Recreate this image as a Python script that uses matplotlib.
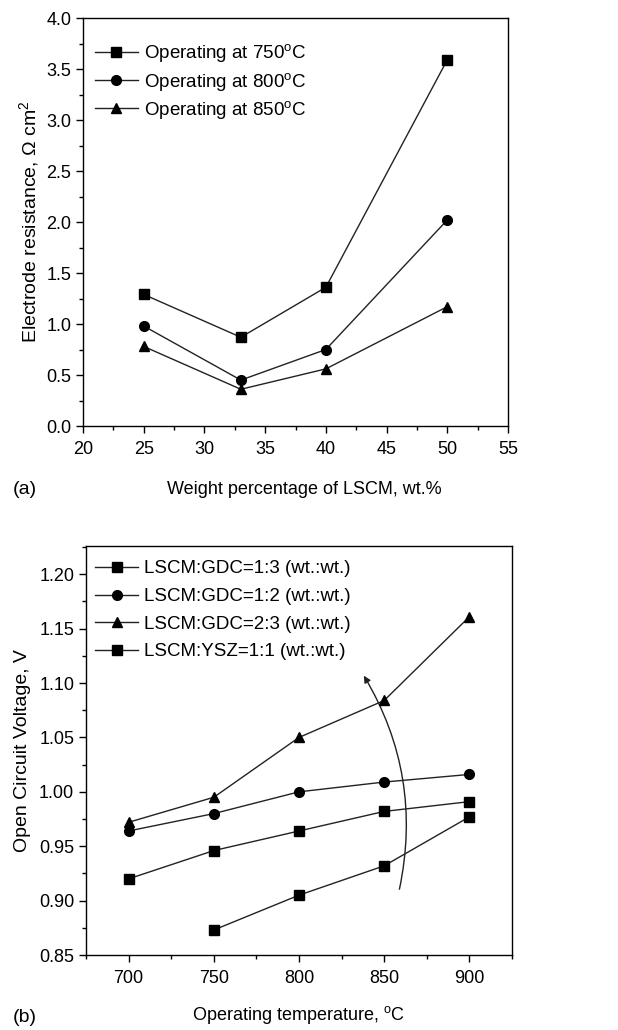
from matplotlib import pyplot as plt
from matplotlib.patches import FancyArrowPatch
from matplotlib.ticker import MultipleLocator

plt.rcParams['font.family'] = ['Liberation Sans', 'DejaVu Sans']
plt.rcParams['mathtext.fontset'] = 'custom'
plt.rcParams['mathtext.rm'] = 'Liberation Sans'
plt.rcParams['mathtext.it'] = 'Liberation Sans:italic'

# (a) electrode resistance vs LSCM content
lscm_wt = [25, 33, 40, 50]
res_750 = [1.29, 0.87, 1.36, 3.59]
res_800 = [0.98, 0.45, 0.75, 2.02]
res_850 = [0.78, 0.36, 0.56, 1.17]

# (b) open circuit voltage vs operating temperature
temp_b = [700, 750, 800, 850, 900]
ocv_gdc_13 = [0.920, 0.946, 0.964, 0.982, 0.991]
ocv_gdc_12 = [0.964, 0.980, 1.000, 1.009, 1.016]
ocv_gdc_23 = [0.972, 0.995, 1.050, 1.084, 1.161]
temp_ysz = [750, 800, 850, 900]
ocv_ysz_11 = [0.873, 0.905, 0.932, 0.977]
labels_b = ['LSCM:GDC=1:3 (wt.:wt.)', 'LSCM:GDC=1:2 (wt.:wt.)',
            'LSCM:GDC=2:3 (wt.:wt.)', 'LSCM:YSZ=1:1 (wt.:wt.)']

W, H = 618, 1030
fig = plt.figure(figsize=(W / 100, H / 100), dpi=100)

line_kw = dict(color='#222222', lw=1.0, markersize=7, markerfacecolor='black',
               markeredgecolor='black')


def style_axes(ax):
    ax.tick_params(which='both', direction='out', labelsize=13, top=False, right=False)
    ax.tick_params(which='major', length=5, width=1)
    ax.tick_params(which='minor', length=3, width=1)
    ax.tick_params(axis='x', which='major', pad=6)
    for s in ax.spines.values():
        s.set_linewidth(1.0)


# ---- panel (a)
ax1 = fig.add_axes([83 / W, 1 - 426 / H, (508 - 83) / W, (426 - 18) / H])
ax1.plot(lscm_wt, res_750, marker='s', label=r'Operating at 750$^\mathrm{o}$C', **line_kw)
ax1.plot(lscm_wt, res_800, marker='o', label=r'Operating at 800$^\mathrm{o}$C', **line_kw)
ax1.plot(lscm_wt, res_850, marker='^', label=r'Operating at 850$^\mathrm{o}$C', **line_kw)
ax1.set_xlim(20, 55)
ax1.set_ylim(0, 4.0)
ax1.xaxis.set_major_locator(MultipleLocator(5))
ax1.xaxis.set_minor_locator(MultipleLocator(2.5))
ax1.yaxis.set_major_locator(MultipleLocator(0.5))
ax1.yaxis.set_minor_locator(MultipleLocator(0.25))
ax1.yaxis.set_major_formatter(plt.FormatStrFormatter('%.1f'))
style_axes(ax1)
ax1.set_ylabel(r'Electrode resistance, $\Omega$ cm$^2$', fontsize=14, labelpad=4)
ax1.legend(loc='upper left', bbox_to_anchor=(0.028, 0.94), frameon=False,
           fontsize=13.5, numpoints=1, handlelength=2.3, handletextpad=0.3,
           labelspacing=0.33, borderaxespad=0, borderpad=0)
fig.text(304 / W, 1 - 490 / H, 'Weight percentage of LSCM, wt.%', fontsize=13,
         ha='center', va='center')
fig.text(13 / W, 1 - 490 / H, '(a)', fontsize=14, va='center')

# ---- panel (b)
ax2 = fig.add_axes([86 / W, 1 - 955 / H, (512 - 86) / W, (955 - 546) / H])
ax2.plot(temp_b, ocv_gdc_13, marker='s', label=labels_b[0], **line_kw)
ax2.plot(temp_b, ocv_gdc_12, marker='o', label=labels_b[1], **line_kw)
ax2.plot(temp_b, ocv_gdc_23, marker='^', label=labels_b[2], **line_kw)
ax2.plot(temp_ysz, ocv_ysz_11, marker='s', label=labels_b[3], **line_kw)
ax2.set_xlim(675, 925)
ax2.set_ylim(0.85, 1.226)
ax2.xaxis.set_major_locator(MultipleLocator(50))
ax2.xaxis.set_minor_locator(MultipleLocator(25))
ax2.yaxis.set_major_locator(MultipleLocator(0.05))
ax2.yaxis.set_minor_locator(MultipleLocator(0.025))
ax2.yaxis.set_major_formatter(plt.FormatStrFormatter('%.2f'))
style_axes(ax2)
ax2.set_ylabel('Open Circuit Voltage, V', fontsize=14, labelpad=6)
ax2.legend(loc='upper left', bbox_to_anchor=(0.021, 0.965), frameon=False,
           fontsize=13.5, numpoints=1, handlelength=2.3, handletextpad=0.3,
           labelspacing=0.56, borderaxespad=0, borderpad=0)
fig.text(299 / W, 1 - 1015 / H, r'Operating temperature, $^\mathrm{o}$C', fontsize=13,
         ha='center', va='center')
fig.text(13 / W, 1 - 1017 / H, '(b)', fontsize=14, va='center')

arrow = FancyArrowPatch((858.6, 0.908), (837.2, 1.109),
                        connectionstyle='arc3,rad=0.2', arrowstyle='-|>',
                        mutation_scale=10, color='#222222', lw=1.0)
ax2.add_patch(arrow)

fig.savefig('out.png', dpi=100)
